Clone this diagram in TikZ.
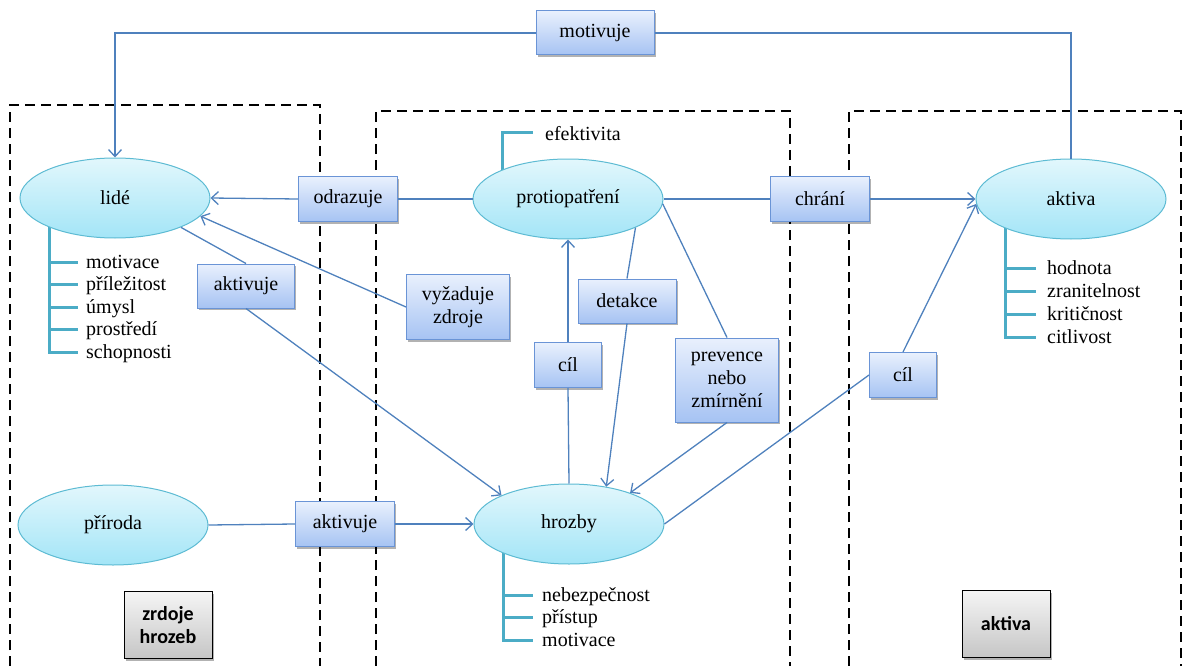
\documentclass[tikz,border=0pt]{standalone}
\usepackage{fontspec}
\setmainfont{Liberation Serif}
\newfontfamily\serfont{Liberation Serif}
\newfontfamily\lblfont{Carlito}
\usetikzlibrary{shapes.geometric,arrows.meta,shadows}
\definecolor{connblue}{HTML}{4F81BD}
\definecolor{treeblue}{HTML}{4BACC6}
\definecolor{ellTop}{HTML}{E2F7FC}
\definecolor{ellBot}{HTML}{A3E5F7}
\definecolor{ellLine}{HTML}{5DBBD3}
\definecolor{boxTop}{HTML}{E9F0FD}
\definecolor{boxBot}{HTML}{A6C3F3}
\definecolor{boxLine}{HTML}{6A94D6}
\begin{document}
\begin{tikzpicture}[x=1pt,y=-1pt,
 every node/.style={font=\serfont\fontsize{20}{23}\selectfont, inner sep=0pt},
 ell/.style={ellipse, draw=ellLine, line width=1pt, top color=ellTop, bottom color=ellBot, minimum width=190pt, minimum height=80pt},
 rel/.style={rectangle, draw=boxLine, line width=1pt, top color=boxTop, bottom color=boxBot, drop shadow={shadow xshift=1.5pt, shadow yshift=-2pt, opacity=0.3, fill=black}, align=center},
 cat/.style={rectangle, draw=black, line width=1pt, top color=gray!8, bottom color=gray!45, drop shadow={shadow xshift=1.5pt, shadow yshift=-2pt, opacity=0.3, fill=black}, font=\lblfont\bfseries\fontsize{20}{23}\selectfont, align=center, minimum width=88pt, minimum height=67pt},
 connector/.style={draw=connblue, line width=1.3pt},
 arrowline/.style={connector, -{Straight Barb[length=7pt,width=13pt]}},
 zone/.style={draw=black, line width=1.5pt, dash pattern=on 10pt off 6pt},
 branch/.style={draw=treeblue, line width=3pt},
 item/.style={anchor=base west}
]
\useasboundingbox (0,0) rectangle (1183,666);
% zones
\draw[zone] (10,666) -- (10,105) -- (320,105) -- (320,666);
\draw[zone] (376,666) -- (376,111) -- (790,111) -- (790,666);
\draw[zone] (849,666) -- (849,111) -- (1181,111) -- (1181,666);
% trees
\draw[branch] (49,220) -- (49,352) -- (78,352);
\foreach \yy in {262,284,307,329} {\draw[branch] (49,\yy) -- (78,\yy);}
\draw[branch] (502,178) -- (502,133) -- (533,133);
\draw[branch] (1005,220) -- (1005,337) -- (1036,337);
\foreach \yy in {268,291,314} {\draw[branch] (1005,\yy) -- (1036,\yy);}
\draw[branch] (503,545) -- (503,640) -- (533,640);
\foreach \yy in {595,617} {\draw[branch] (503,\yy) -- (533,\yy);}
% items
\node[item] (l1) at (86,268) {motivace};
\node[item] (l2) at (86,290) {příležitost};
\node[item] (l3) at (86,313) {úmysl};
\node[item] (l4) at (86,335) {prostředí};
\node[item] (l5) at (86,358) {schopnosti};
\node[item] (e1) at (545,140) {efektivita};
\node[item] (a1) at (1047,274) {hodnota};
\node[item] (a2) at (1047,297) {zranitelnost};
\node[item] (a3) at (1047,320) {kritičnost};
\node[item] (a4) at (1047,343) {citlivost};
\node[item] (h1) at (542,601) {nebezpečnost};
\node[item] (h2) at (542,623) {přístup};
\node[item] (h3) at (542,646) {motivace};
% main nodes
\node[ell] (lide) at (115,198) {lidé};
\node[ell] (protio) at (568,199) {protiopatření};
\node[ell] (aktiva) at (1071,199) {aktiva};
\node[ell] (priroda) at (113,525) {příroda};
\node[ell] (hrozby) at (569,524) {hrozby};
% relation boxes
\node[rel, minimum width=118pt, minimum height=44pt] (mot) at (595,33) {motivuje};
\node[rel, minimum width=99pt, minimum height=45pt] (odr) at (348,199) {odrazuje};
\node[rel, minimum width=99pt, minimum height=45pt] (chr) at (820,199) {chrání};
\node[rel, minimum width=97pt, minimum height=44pt] (akt1) at (246,286) {aktivuje};
\node[rel, minimum width=103pt, minimum height=65pt] (vyz) at (458,307) {vyžaduje\\zdroje};
\node[rel, minimum width=98pt, minimum height=44pt] (det) at (627,301) {detakce};
\node[rel, minimum width=67pt, minimum height=45pt] (cil1) at (568,365) {cíl};
\node[rel, minimum width=103pt, minimum height=84pt] (prev) at (727,380) {prevence\\nebo\\zmírnění};
\node[rel, minimum width=67pt, minimum height=45pt] (cil2) at (903,375) {cíl};
\node[rel, minimum width=99pt, minimum height=45pt] (akt2) at (345,524) {aktivuje};
% category boxes
\node[cat] (zh) at (168,625) {zrdoje\\hrozeb};
\node[cat] (ca) at (1006,624) {aktiva};
% connectors
\draw[connector] (aktiva.north) |- (mot.east);
\draw[arrowline] (mot.west) -| (lide.north);
\draw[connector] (protio.west) -- (odr.east);
\draw[arrowline] (odr.west) -- (lide.east);
\draw[connector] (protio.east) -- (chr.west);
\draw[arrowline] (chr.east) -- (aktiva.west);
\draw[connector] (lide.-24) -- (akt1.north);
\draw[arrowline] (akt1.south) -- (hrozby.157);
\draw[arrowline] (vyz.west) -- (lide.-12);
\draw[connector] (hrozby.north) -- (cil1.south);
\draw[arrowline] (cil1.north) -- (protio.south);
\draw[connector] (protio.-23) -- (det.north);
\draw[arrowline] (det.south) -- (hrozby.45);
\draw[connector] (protio.-3) -- (prev.north);
\draw[arrowline] (prev.south) -- (hrozby.27);
\draw[connector] (hrozby.east) -- (cil2.west);
\draw[arrowline] (cil2.north) -- (aktiva.183);
\draw[connector] (priroda.east) -- (akt2.west);
\draw[arrowline] (akt2.east) -- (hrozby.west);
\end{tikzpicture}
\end{document}
